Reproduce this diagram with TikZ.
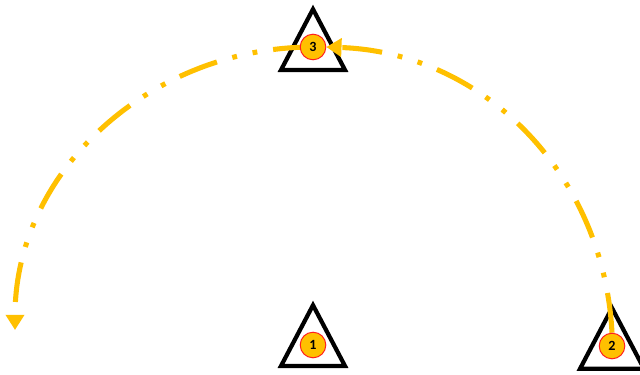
\documentclass[tikz,border=0pt]{standalone}
\usepackage{fontspec}
\setmainfont{Carlito}
\definecolor{markorange}{RGB}{255,192,0}
\definecolor{markred}{RGB}{255,30,30}
\usetikzlibrary{arrows.meta,backgrounds}
\tikzstyle{cone} = [draw, line width=3pt, line join=miter]
\tikzstyle{spot} = [circle, draw=markred, line width=0.7pt, fill=markorange, minimum size=0.64cm, inner sep=0pt, font=\fontsize{10}{12}\selectfont\bfseries]
\tikzstyle{route} = [markorange, line width=3.6pt, dash pattern=on 1cm off 0.4cm on 0.12cm off 0.4cm on 0.12cm off 0.4cm, -{Triangle[length=0.38cm,width=0.45cm]}]

\begin{document}
\begin{tikzpicture}
          \useasboundingbox (0,0) rectangle (16,9.35);
          \node[spot] (c1) at (7.825,0.725) {1};
          \node[spot] (c2) at (15.3,0.7) {2};
          \node[spot] (c3) at (7.825,8.175) {3};
          \coordinate (lend) at (0.375,1.1);
          \begin{scope}[on background layer]
          \draw[cone] (7.025,0.2) -- ++(0.8,1.52) -- ++(0.8,-1.52) -- cycle;
          \draw[cone] (14.5,0.13) -- ++(0.8,1.52) -- ++(0.8,-1.52) -- cycle;
          \draw[cone] (7.025,7.6) -- ++(0.8,1.52) -- ++(0.8,-1.52) -- cycle;
          \draw[route] (c2.north) to[out=93,in=-2] (c3.east);
          \draw[route] (c3.center) to[out=180,in=90] (lend);
          \end{scope}
        \end{tikzpicture}
\end{document}
